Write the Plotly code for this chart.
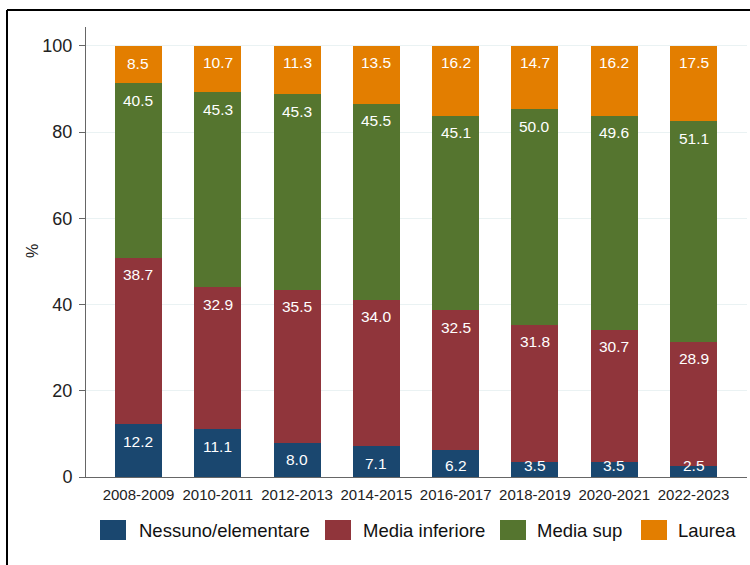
import plotly.graph_objects as go

# Survey waves and share (%) of each education level
periods = ["2008-2009", "2010-2011", "2012-2013", "2014-2015",
           "2016-2017", "2018-2019", "2020-2021", "2022-2023"]
series_names = ["Nessuno/elementare", "Media inferiore", "Media sup", "Laurea"]
nessuno_elementare = [12.2, 11.1, 8.0, 7.1, 6.2, 3.5, 3.5, 2.5]
media_inferiore = [38.7, 32.9, 35.5, 34.0, 32.5, 31.8, 30.7, 28.9]
media_sup = [40.5, 45.3, 45.3, 45.5, 45.1, 50.0, 49.6, 51.1]
laurea = [8.5, 10.7, 11.3, 13.5, 16.2, 14.7, 16.2, 17.5]
y_ticks = [0, 20, 40, 60, 80, 100]

series_values = [nessuno_elementare, media_inferiore, media_sup, laurea]
colors = ["#1a476f", "#90353b", "#55752f", "#e37e00"]

W, H = 750, 565
M_L, M_R, M_T, M_B = 86, 3, 27, 88
PLOT_W = W - M_L - M_R
PLOT_H = H - M_T - M_B
Y_MAX = 104.4
PX_PER_UNIT = PLOT_H / Y_MAX
FONT = "Liberation Sans, Arial, sans-serif"


def xp(px):
    return (px - M_L) / PLOT_W


def yp(py):
    return (H - M_B - py) / PLOT_H


fig = go.Figure()
for name, vals, col in zip(series_names, series_values, colors):
    fig.add_trace(go.Bar(
        x=periods, y=vals, name=name, width=0.593,
        marker=dict(color=col, line=dict(width=0)),
        hoverinfo="x+y+name",
    ))

# value labels near the top of each stacked segment
annotations = []
bases = [0.0] * len(periods)
for vals in series_values:
    for i, v in enumerate(vals):
        top = bases[i] + v
        if top * PX_PER_UNIT - 17 < 12:
            y, shift = 0, 12
        else:
            y, shift = top, -17
        annotations.append(dict(
            x=periods[i], y=y, yshift=shift, text=f"{v:.1f}",
            showarrow=False, xanchor="center", yanchor="middle",
            font=dict(family=FONT, size=15.5, color="#ffffff"),
        ))
        bases[i] = top

# y-axis title
annotations.append(dict(
    x=xp(32), y=yp(251), xref="paper", yref="paper", text="%",
    textangle=-90, showarrow=False, xanchor="center", yanchor="middle",
    font=dict(family=FONT, size=16, color="#222222"),
))

# legend: coloured keys with their labels
shapes = []
key_x = [100, 325, 500, 641]
text_x = [137, 361, 535, 676]
for name, col, kx, tx in zip(series_names, colors, key_x, text_x):
    shapes.append(dict(
        type="rect", xref="paper", yref="paper",
        x0=xp(kx), x1=xp(kx + 26), y0=yp(540), y1=yp(520),
        fillcolor=col, line=dict(width=0),
    ))
    annotations.append(dict(
        x=xp(tx), y=yp(530), xref="paper", yref="paper", text=name,
        showarrow=False, xanchor="left", yanchor="middle",
        font=dict(family=FONT, size=18.5, color="#111111"),
    ))

# outer frame (top and left edges)
shapes.append(dict(type="line", xref="paper", yref="paper",
                   x0=xp(7), x1=xp(752), y0=yp(10), y1=yp(10),
                   line=dict(color="#000000", width=2)))
shapes.append(dict(type="line", xref="paper", yref="paper",
                   x0=xp(7), x1=xp(7), y0=yp(10), y1=yp(570),
                   line=dict(color="#000000", width=2)))

fig.update_layout(
    width=W, height=H,
    margin=dict(l=M_L, r=M_R, t=M_T, b=M_B, pad=0),
    barmode="stack",
    showlegend=False,
    plot_bgcolor="#ffffff",
    paper_bgcolor="#ffffff",
    font=dict(family=FONT, color="#222222"),
    annotations=annotations,
    shapes=shapes,
    xaxis=dict(
        type="category", range=[-0.662, 7.674],
        showgrid=False, ticks="", showline=True,
        linecolor="#666666", linewidth=1,
        ticklabelstandoff=4,
        tickfont=dict(family=FONT, size=15, color="#222222"),
        fixedrange=True,
    ),
    yaxis=dict(
        range=[0, Y_MAX], tickvals=y_ticks,
        showgrid=True, gridcolor="#eaf2f3", gridwidth=1,
        zeroline=False, showline=True, linecolor="#666666", linewidth=1,
        ticks="outside", ticklen=6, tickcolor="#666666",
        ticklabelstandoff=3,
        tickfont=dict(family=FONT, size=18, color="#222222"),
        fixedrange=True,
    ),
)

fig.write_html("out.html")
